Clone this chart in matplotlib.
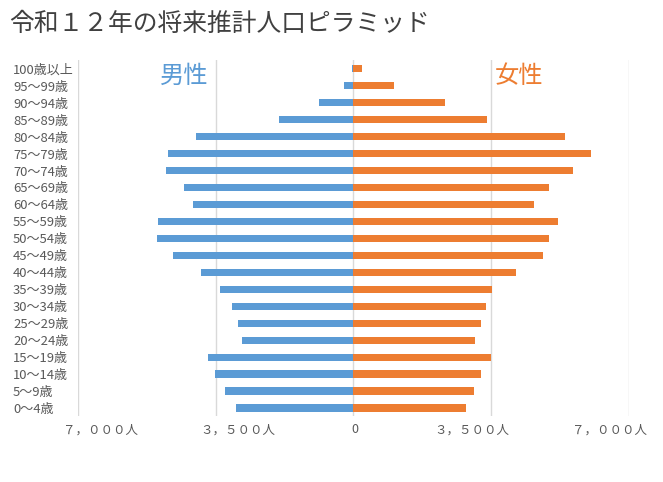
import matplotlib
matplotlib.use('Agg')
import matplotlib.pyplot as plt
import matplotlib.transforms as mtransforms
from matplotlib.ticker import FuncFormatter

plt.rcParams['font.family'] = ['Noto Sans CJK JP', 'DejaVu Sans']

ages = ['0〜4歳', '5〜9歳', '10〜14歳', '15〜19歳', '20〜24歳', '25〜29歳',
        '30〜34歳', '35〜39歳', '40〜44歳', '45〜49歳', '50〜54歳', '55〜59歳',
        '60〜64歳', '65〜69歳', '70〜74歳', '75〜79歳', '80〜84歳', '85〜89歳',
        '90〜94歳', '95〜99歳', '100歳以上']
male = [2986, 3266, 3521, 3699, 2833, 2935, 3088, 3393, 3877, 4590, 4997,
        4972, 4081, 4310, 4768, 4717, 4004, 1891, 873, 237, 40]
female = [2869, 3072, 3250, 3505, 3098, 3250, 3378, 3530, 4141, 4829, 4981,
          5210, 4600, 4981, 5592, 6051, 5389, 3403, 2334, 1036, 221]
xticks = [-7000, -3500, 0, 3500, 7000]

blue = '#5B9BD5'
orange = '#ED7D31'
gray = '#595959'

fig = plt.figure(figsize=(6.63, 4.82), dpi=100)
ax = fig.add_axes([0.118, 0.136, 0.830, 0.739])

y = range(len(ages))
ax.barh(y, [-m for m in male], height=0.42, color=blue, zorder=3)
ax.barh(y, female, height=0.42, color=orange, zorder=3)

ax.set_xlim(-7000, 7000)
ax.set_ylim(-0.5, len(ages) - 0.5)
ax.set_xticks(xticks)

full = str.maketrans('0123456789,', '０１２３４５６７８９，')
def fmt(v, pos):
    if v == 0:
        return '0'
    return f'{abs(int(v)):,}'.translate(full) + '人'
ax.xaxis.set_major_formatter(FuncFormatter(fmt))

ax.set_yticks(list(y))
ax.set_yticklabels(ages)
for lab in ax.get_yticklabels():
    lab.set_horizontalalignment('left')
ax.tick_params(axis='y', length=0, pad=47, labelsize=9.4, labelcolor=gray)
ax.tick_params(axis='x', length=0, pad=5, labelsize=9, labelcolor=gray)

# labels sit a little toward the centre, like the original
for v, lab in zip(xticks, ax.get_xticklabels()):
    dx = 22 if v < 0 else (-19 if v > 0 else 1)
    off = mtransforms.ScaledTranslation(dx / 100, 0, fig.dpi_scale_trans)
    lab.set_transform(lab.get_transform() + off)

ax.grid(axis='x', color='#d9d9d9', linewidth=1, zorder=0)
for s in ax.spines.values():
    s.set_visible(False)

fig.text(0.014, 0.95, '令和１２年の将来推計人口ピラミッド', fontsize=17.8,
         color='#404040', va='center', ha='left')
fig.text(0.241, 0.843, '男性', fontsize=17.5, color=blue, ha='left', va='center')
fig.text(0.746, 0.843, '女性', fontsize=17.5, color=orange, ha='left', va='center')

fig.savefig('out.png', dpi=100)
